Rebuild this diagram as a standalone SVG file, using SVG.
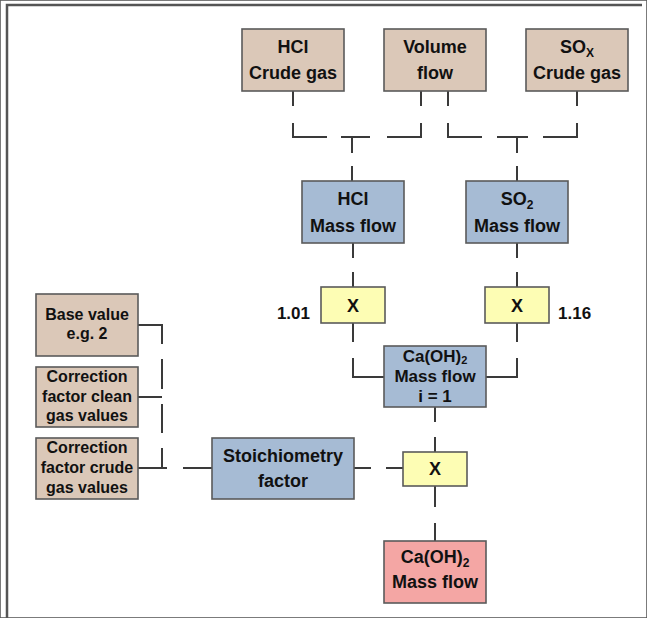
<svg xmlns="http://www.w3.org/2000/svg" width="647" height="618" viewBox="0 0 647 618">
<style>
.tan{fill:#dbc8b8}
.blue{fill:#a6bbd4}
.yel{fill:#fdfdb4}
.red{fill:#f4a6a4}
rect{stroke:#5a5a5a;stroke-width:1.6}
text{font-family:"Liberation Sans",Arial,sans-serif;font-weight:bold;font-size:18px;text-anchor:middle;fill:#111}
.s16{font-size:16px}
.s17{font-size:17px}
.sub{font-size:12px}
.sub2{font-size:11px}
#connectors path{fill:none;stroke:#3a3a3a;stroke-width:2}
#frame path{fill:none;stroke:#555;stroke-width:2.5}
</style>
<rect width="647" height="618" fill="#fff" stroke="none"/>
<g id="frame"><path d="M642,5 H7 V618"/></g>
<g id="connectors">
<path d="M293,91 V106 M293,123 V137 H327 M341,137 H370 M352,137 V153 M387,137 H421 V123 M421,91 V106 M352,166 V181"/>
<path d="M448,91 V106 M448,123 V137 H482 M497,137 H528 M517,137 V153 M543,137 H577 V123 M577,91 V106 M517,166 V181"/>
<path d="M353,243 V258 M353,272 V287 M517,243 V258 M517,272 V287"/>
<path d="M353,323 V342 M353,358 V377 H384 M517,323 V342 M517,358 V377 H486"/>
<path d="M435,407 V422 M435,437 V452 M435,486 V507 M435,523 V541"/>
<path d="M354,468 H371 M386,468 H403"/>
<path d="M138,325 H162 V344 M162,359 V389 M138,397 H162 M162,404 V433 M162,448 V468 M138,468 H167 M183,468 H212"/>
</g>
<g id="hcl_crude"><rect class="tan" x="242" y="29" width="102" height="62"/><text x="293" y="53">HCl</text><text x="293" y="79">Crude gas</text></g>
<g id="volume_flow"><rect class="tan" x="384" y="29" width="102" height="62"/><text x="435" y="53">Volume</text><text x="435" y="79">flow</text></g>
<g id="sox_crude"><rect class="tan" x="526" y="29" width="102" height="62"/><text x="577" y="53">SO<tspan class="sub" dy="4">X</tspan></text><text x="577" y="79">Crude gas</text></g>
<g id="hcl_mass"><rect class="blue" x="302" y="181" width="102" height="62"/><text x="353" y="205">HCl</text><text x="353" y="232">Mass flow</text></g>
<g id="so2_mass"><rect class="blue" x="466" y="181" width="102" height="62"/><text x="517" y="205">SO<tspan class="sub" dy="4">2</tspan></text><text x="517" y="232">Mass flow</text></g>
<g id="mult_hcl"><rect class="yel" x="321" y="287" width="64" height="36"/><text x="353" y="312">X</text></g>
<g id="mult_so2"><rect class="yel" x="485" y="287" width="64" height="36"/><text x="517" y="312">X</text></g>
<g id="factor_101"><text class="s17" x="310" y="319" style="text-anchor:end">1.01</text></g>
<g id="factor_116"><text class="s17" x="558" y="319" style="text-anchor:start">1.16</text></g>
<g id="caoh_i1"><rect class="blue" x="384" y="346" width="102" height="61"/><text class="s17" x="435" y="362">Ca(OH)<tspan class="sub2" dy="2">2</tspan></text><text class="s17" x="435" y="382">Mass flow</text><text class="s17" x="435" y="402">i = 1</text></g>
<g id="base_value"><rect class="tan" x="36" y="294" width="102" height="62"/><text class="s16" x="87" y="320">Base value</text><text class="s16" x="87" y="339">e.g. 2</text></g>
<g id="corr_clean"><rect class="tan" x="36" y="367" width="102" height="60"/><text class="s16" x="87" y="382">Correction</text><text class="s16" x="87" y="402">factor clean</text><text class="s16" x="87" y="421">gas values</text></g>
<g id="corr_crude"><rect class="tan" x="36" y="438" width="102" height="61"/><text class="s16" x="87" y="453">Correction</text><text class="s16" x="87" y="473">factor crude</text><text class="s16" x="87" y="493">gas values</text></g>
<g id="stoich"><rect class="blue" x="212" y="438" width="142" height="61"/><text x="283" y="462">Stoichiometry</text><text x="283" y="487">factor</text></g>
<g id="mult_final"><rect class="yel" x="403" y="452" width="64" height="34"/><text x="435" y="475">X</text></g>
<g id="caoh_result"><rect class="red" x="384" y="541" width="102" height="62"/><text x="435" y="563">Ca(OH)<tspan class="sub" dy="4">2</tspan></text><text x="435" y="588">Mass flow</text></g>
</svg>
